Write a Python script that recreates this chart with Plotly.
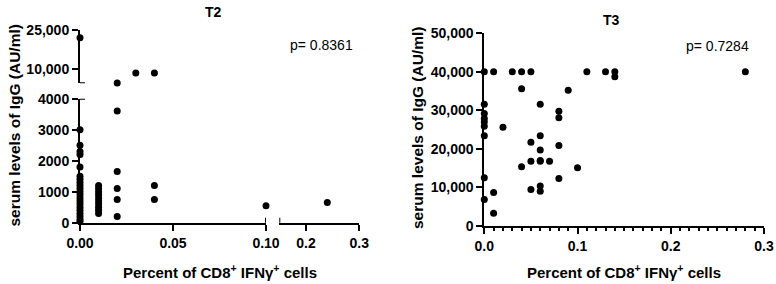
import plotly.graph_objects as go

# ---------------- data ----------------
t2_x = [0]*22 + [0.01]*10 + [0.02]*6 + [0.03] + [0.04]*3 + [0.10, 0.24]
t2_y = [22000, 3000, 2500, 2300, 2200, 1800, 1500, 1400, 1300, 1200, 1100,
        1000, 900, 800, 700, 600, 500, 400, 300, 200, 100, 50,
        1200, 1100, 1000, 900, 800, 700, 600, 500, 400, 300,
        4600, 3600, 1650, 1100, 750, 200,
        8500,
        8500, 1200, 750,
        550, 650]

t3_x = [0, 0, 0, 0, 0, 0, 0, 0, 0,
        0.01, 0.01, 0.01,
        0.02,
        0.03,
        0.04, 0.04, 0.04,
        0.05, 0.05, 0.05, 0.05,
        0.06, 0.06, 0.06, 0.06, 0.06, 0.06, 0.06,
        0.07,
        0.08, 0.08, 0.08, 0.08,
        0.09, 0.10, 0.11, 0.13, 0.14, 0.14, 0.28]
t3_y = [40000, 31600, 29200, 27900, 27000, 25900, 23400, 12500, 6900,
        40000, 8700, 3300,
        25600,
        40000,
        40000, 35600, 15400,
        40000, 21700, 16800, 9500,
        31600, 23400, 19700, 16800, 10400, 9000, 17000,
        16800,
        29800, 28100, 20900, 12300,
        35200, 15100, 40000, 40000, 40000, 38700, 40000]

t2_p = "p= 0.8361"
t3_p = "p= 0.7284"

# axis breaks for T2
t2_xbreak = 0.10
t2_x2start = 0.15
t2_ybreak = 4000
t2_y2start = 4500

t2_xlow_ticks = [0, 0.05, 0.10]
t2_xlow_labels = ["0.00", "0.05", "0.10"]
t2_xhigh_ticks = [0.2, 0.3]
t2_xhigh_labels = ["0.2", "0.3"]
t2_ylow_ticks = [0, 1000, 2000, 3000, 4000]
t2_ylow_labels = ["0", "1000", "2000", "3000", "4000"]
t2_yhigh_ticks = [10000, 25000]
t2_yhigh_labels = ["10,000", "25,000"]

t3_xticks = [0, 0.1, 0.2, 0.3]
t3_xlabels = ["0.0", "0.1", "0.2", "0.3"]
t3_yticks = [0, 10000, 20000, 30000, 40000, 50000]
t3_ylabels = ["0", "10,000", "20,000", "30,000", "40,000", "50,000"]

# ---------------- figure ----------------
W, H = 776, 284
FONT = "Liberation Sans"
marker = dict(color="black", size=7)

fig = go.Figure()

def add_pts(xs, ys, xa, ya):
    if xs:
        fig.add_trace(go.Scatter(x=xs, y=ys, mode="markers", marker=marker,
                                 xaxis=xa, yaxis=ya, cliponaxis=False,
                                 showlegend=False, hoverinfo="x+y"))

seg = {}
for xv, yv in zip(t2_x, t2_y):
    xa = "x" if xv <= t2_xbreak else "x2"
    ya = "y" if yv <= t2_ybreak else "y2"
    seg.setdefault((xa, ya), ([], []))
    seg[(xa, ya)][0].append(xv)
    seg[(xa, ya)][1].append(yv)
for (xa, ya), (xs, ys) in seg.items():
    add_pts(xs, ys, xa, ya)

add_pts(t3_x, t3_y, "x3", "y3")

def px_x(p):
    return p / W

def px_y(p):
    return 1 - p / H

tickfont = dict(family=FONT, size=14, color="black", weight="bold")
common = dict(showgrid=False, zeroline=False, showline=True, linecolor="black",
              linewidth=2, ticks="outside", ticklen=6, tickwidth=2,
              tickcolor="black", tickfont=tickfont, fixedrange=True,
              automargin=False)

fig.update_layout(
    width=W, height=H, margin=dict(l=0, r=0, t=0, b=0, autoexpand=False),
    paper_bgcolor="white", plot_bgcolor="white", showlegend=False,
    xaxis=dict(domain=[px_x(80), px_x(266)], range=[0, t2_xbreak], anchor="y",
               tickvals=t2_xlow_ticks, ticktext=t2_xlow_labels, **common),
    xaxis2=dict(domain=[px_x(279.3), px_x(359.3)], range=[t2_x2start, 0.3], anchor="y",
                tickvals=t2_xhigh_ticks, ticktext=t2_xhigh_labels, **common),
    yaxis=dict(domain=[px_y(222.7), px_y(98.7)], range=[0, t2_ybreak], anchor="x",
               tickvals=t2_ylow_ticks, ticktext=t2_ylow_labels, **common),
    yaxis2=dict(domain=[px_y(83.3), px_y(30)], range=[t2_y2start, 25000], anchor="x",
                tickvals=t2_yhigh_ticks, ticktext=t2_yhigh_labels, **common),
    xaxis3=dict(domain=[px_x(484.3), px_x(764)], range=[0, 0.3], anchor="y3",
                tickvals=t3_xticks, ticktext=t3_xlabels,
                minor=dict(dtick=0.01, ticks="outside", ticklen=3, tickwidth=1.5,
                           tickcolor="black"), **common),
    yaxis3=dict(domain=[px_y(226), px_y(33.3)], range=[0, 50000], anchor="x3",
                tickvals=t3_yticks, ticktext=t3_ylabels, **common),
)

# break caps (crossing the axis line)
cap = dict(type="line", line=dict(color="black", width=2))
fig.add_shape(xref="x", yref="y", xsizemode="pixel", xanchor=0, x0=-5, x1=5,
              y0=t2_ybreak, y1=t2_ybreak, **cap)
fig.add_shape(xref="x", yref="y2", xsizemode="pixel", xanchor=0, x0=-5, x1=5,
              y0=t2_y2start, y1=t2_y2start, **cap)
fig.add_shape(xref="x", yref="y", ysizemode="pixel", yanchor=0, y0=-5, y1=5,
              x0=t2_xbreak, x1=t2_xbreak, **cap)
fig.add_shape(xref="x2", yref="y", ysizemode="pixel", yanchor=0, y0=-5, y1=5,
              x0=t2_x2start, x1=t2_x2start, **cap)

# texts
def ann(text, x, y, size=14, bold=True, angle=0):
    fig.add_annotation(text=text, x=x, y=y, xref="paper", yref="paper",
                       showarrow=False, textangle=angle,
                       xanchor="center", yanchor="middle",
                       font=dict(family=FONT, size=size, color="black",
                                 weight="bold" if bold else "normal"))

xtitle = "Percent of CD8<sup>+</sup> IFNγ<sup>+</sup> cells"
ytitle = "serum levels of IgG (AU/ml)"
ann("T2", px_x(213), px_y(12))
ann("T3", px_x(611.7), px_y(20))
ann(t2_p, px_x(321), px_y(45), bold=False)
ann(t3_p, px_x(717), px_y(46), bold=False)
ann(xtitle, px_x(219.5), px_y(271), size=15)
ann(xtitle, px_x(623.7), px_y(271), size=15)
ann(ytitle, px_x(14), px_y(125.5), size=15.5, angle=-90)
ann(ytitle, px_x(417), px_y(128), size=15.5, angle=-90)

fig.write_html("out.html", config={"displayModeBar": False},
               post_script="document.body.style.margin='0';document.body.style.overflow='hidden';")
